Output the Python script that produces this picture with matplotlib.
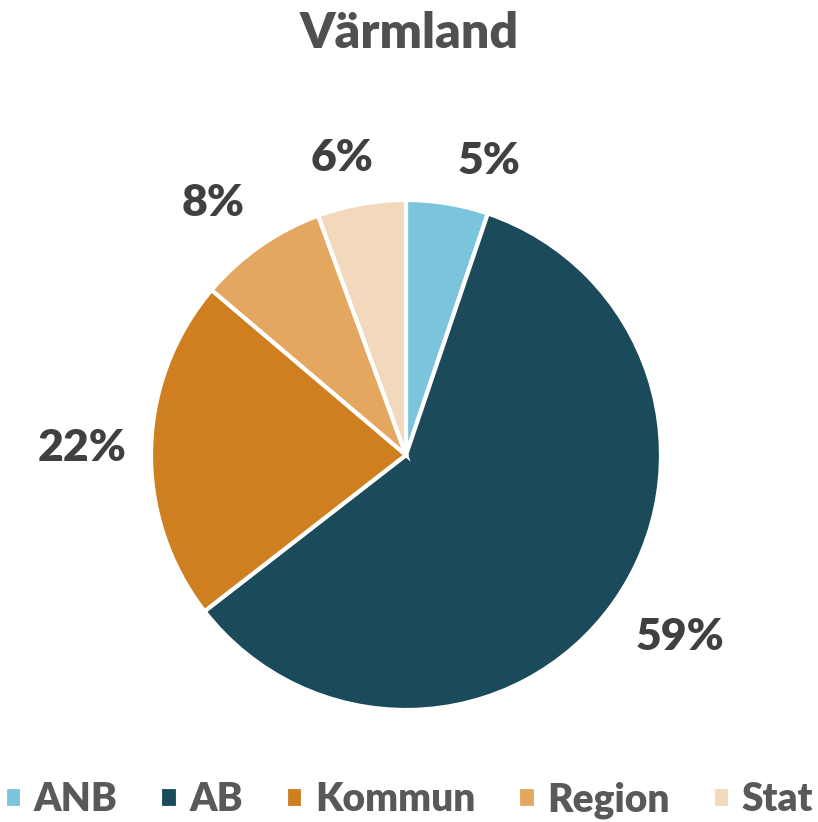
import matplotlib
matplotlib.use("Agg")
import matplotlib.pyplot as plt
import numpy as np

categories = ["ANB", "AB", "Kommun", "Region", "Stat"]
shares = [5.2, 59.3, 21.7, 8.2, 5.6]
colours = ["#7AC5DC", "#1B4A5A", "#CF7F20", "#E4A75F", "#F3D9BC"]
title = "Värmland"

plt.rcParams["font.family"] = ["Lato", "DejaVu Sans"]

W, H = 818, 822
fig = plt.figure(figsize=(W / 100, H / 100), dpi=100)
cx, cy, r = 406, 455, 255
ax = fig.add_axes([(cx - r) / W, (H - cy - r) / H, 2 * r / W, 2 * r / H])

wedges, _ = ax.pie(shares, colors=colours, startangle=90, counterclock=False,
                   radius=1.0, wedgeprops=dict(edgecolor="white", linewidth=3))
ax.set_xlim(-1, 1); ax.set_ylim(-1, 1)
ax.set_aspect("equal")
ax.axis("off")

# label placement (radius factor, angle nudge in degrees) per slice
lab_r = [1.20, 1.29, 1.27, 1.245, 1.19]
lab_da = [-6.4, 1.9, 0.0, 2.4, 2.0]
for w, v, rr, da in zip(wedges, shares, lab_r, lab_da):
    ang = np.deg2rad((w.theta1 + w.theta2) / 2 + da)
    ax.text(rr * np.cos(ang), rr * np.sin(ang), f"{v:.0f}%",
            ha="center", va="center", fontsize=32, fontweight="heavy",
            color="#404040")

fig.text(0.5, 1 - 33 / H, title, ha="center", va="center", fontsize=36,
         fontweight="heavy", color="#505050")

fig.legend(wedges, categories, loc="center", bbox_to_anchor=(0.5, 1 - 800 / H),
           ncol=5, frameon=False, prop=dict(weight="heavy", size=28),
           handlelength=0.45, handleheight=0.45, handletextpad=0.3,
           columnspacing=1.1, labelcolor="#595959")

fig.savefig("out.png", dpi=100)
